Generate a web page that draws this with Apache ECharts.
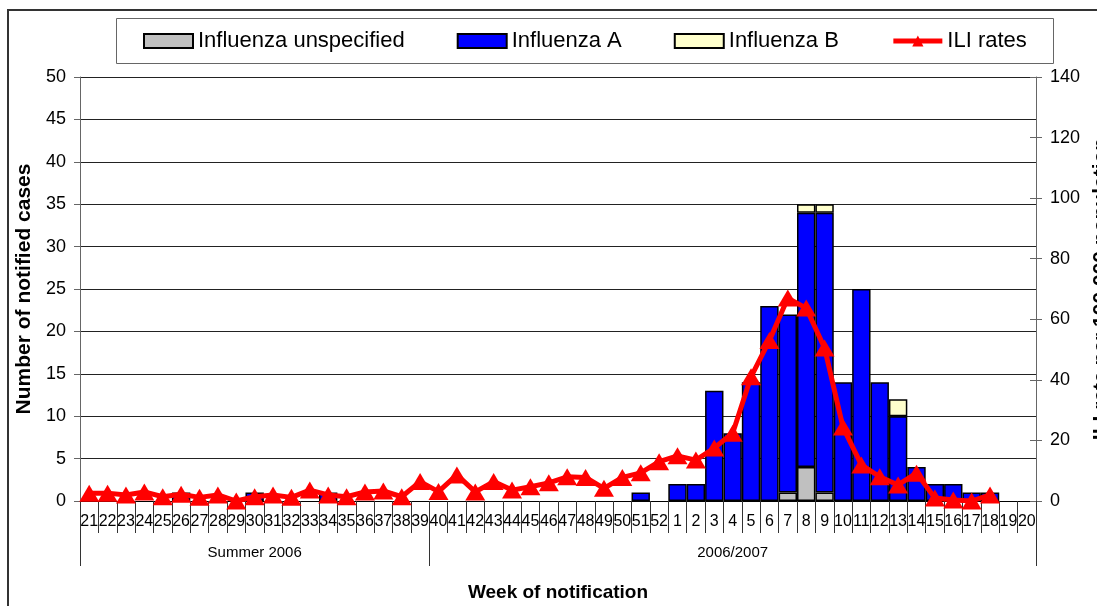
<!DOCTYPE html>
<html>
<head>
<meta charset="utf-8">
<script src="https://cdn.jsdelivr.net/npm/echarts@6/dist/echarts.min.js"></script>
<style>
  html, body { margin: 0; padding: 0; background: #fff; }
  #chart { width: 1097px; height: 606px; }
</style>
</head>
<body>
<div id="chart"></div>
<script>
  // week of notification, 2006 week 21 .. 2007 week 20
  const weeks = ['21', '22', '23', '24', '25', '26', '27', '28', '29', '30', '31', '32', '33', '34', '35', '36', '37', '38', '39',
    '40', '41', '42', '43', '44', '45', '46', '47', '48', '49', '50', '51', '52',
    '1', '2', '3', '4', '5', '6', '7', '8', '9', '10', '11', '12', '13', '14', '15', '16', '17', '18', '19', '20'];
  const groupNames = ['Summer 2006', '2006/2007'];
  const groupSizes = [19, 33];

  const fluUnspecified = [0, 0, 0, 0, 0, 0, 0, 0, 0, 0, 0, 0, 0, 0, 0, 0, 0, 0, 0,
    0, 0, 0, 0, 0, 0, 0, 0, 0, 0, 0, 0, 0,
    0, 0, 0, 0, 0, 0, 1, 4, 1, 0, 0, 0, 0, 0, 0, 0, 0, 0, 0, 0];
  const fluA = [0, 0, 0, 0, 0, 1, 0, 0, 0, 1, 0, 0, 0, 1, 0, 0, 0, 0, 0,
    0, 0, 0, 0, 0, 0, 0, 0, 0, 0, 0, 1, 0,
    2, 2, 13, 8, 14, 23, 21, 30, 33, 14, 25, 14, 10, 4, 2, 2, 1, 1, 0, 0];
  const fluB = [0, 0, 0, 0, 0, 0, 0, 0, 0, 0, 0, 0, 0, 0, 0, 0, 0, 0, 0,
    0, 0, 0, 0, 0, 0, 0, 0, 0, 0, 0, 0, 0,
    0, 0, 0, 0, 0, 0, 0, 1, 1, 0, 0, 0, 2, 0, 0, 0, 0, 0, 0, 0];
  const iliRates = [2.6, 2.6, 2, 3, 1.4, 2.2, 1.2, 2, 0, 1.4, 2, 1.2, 3.6, 2, 1.4, 3, 3.3, 1.4, 6.4,
    3.1, 8.6, 3, 6.4, 3.6, 4.7, 6, 8, 7.8, 4.2, 7.8, 9.3, 13,
    14.9, 13.5, 17.5, 22.4, 41, 53, 67, 63.7, 50.5, 24.4, 11.9, 8, 5.3, 9.2, 1, 0.3, 0, 2, null, null];

  const fontFamily = '"Liberation Sans", Arial, sans-serif';

  // second level labels: group name placed on the middle category of each group
  let groupLabels = weeks.map(() => '');
  let groupStarts = [];
  let start = 0;
  groupSizes.forEach((size, i) => {
    groupStarts.push(start);
    groupLabels[start + Math.floor(size / 2)] = groupNames[i];
    start += size;
  });

  const barStyle = (color) => ({ color: color, borderColor: '#000', borderWidth: 1.5 });
  const noZero = (arr) => arr.map(v => (v ? v : null));

  const chart = echarts.init(document.getElementById('chart'), null, { renderer: 'canvas' });
  chart.setOption({
    animation: false,
    textStyle: { fontFamily: fontFamily, color: '#000' },
    graphic: [
      {
        type: 'rect', z: 0, silent: true,
        shape: { x: 8, y: 10, width: 1200, height: 700 },
        style: { fill: 'none', stroke: '#333', lineWidth: 2 }
      },
      {
        type: 'rect', z: 0, silent: true,
        shape: { x: 116.5, y: 18.5, width: 937, height: 45 },
        style: { fill: 'none', stroke: '#666', lineWidth: 1 }
      }
    ],
    legend: {
      left: 143,
      top: 30,
      padding: 0,
      itemWidth: 49,
      itemHeight: 14,
      itemGap: 52,
      textStyle: { fontSize: 22, color: '#000', fontFamily: fontFamily },
      data: [
        { name: 'Influenza unspecified', icon: 'rect', itemStyle: { borderColor: '#000', borderWidth: 2 } },
        { name: 'Influenza A', icon: 'rect', itemStyle: { borderColor: '#000', borderWidth: 2 } },
        { name: 'Influenza B', icon: 'rect', itemStyle: { borderColor: '#000', borderWidth: 2 } },
        { name: 'ILI rates', lineStyle: { width: 5, color: '#ff0000' } }
      ]
    },
    grid: { left: 80, right: 61, top: 77, bottom: 105, outerBoundsMode: 'none', containLabel: false },
    xAxis: [
      {
        type: 'category',
        data: weeks,
        position: 'bottom',
        axisLine: { lineStyle: { color: '#000', width: 1 } },
        axisTick: { show: true, interval: 0, length: 32, lineStyle: { color: '#333' } },
        axisLabel: { interval: 0, fontSize: 16, color: '#000', margin: 13, hideOverlap: false }
      },
      {
        type: 'category',
        data: groupLabels,
        position: 'bottom',
        axisLine: { show: false },
        axisTick: {
          show: true,
          length: 65,
          interval: (index) => groupStarts.indexOf(index) >= 0,
          lineStyle: { color: '#333' }
        },
        axisLabel: {
          interval: (index, value) => value !== '',
          fontSize: 15,
          color: '#000',
          margin: 44
        },
        name: 'Week of notification',
        nameLocation: 'middle',
        nameGap: 82,
        nameTextStyle: { fontSize: 19, fontWeight: 'bold', color: '#000' }
      }
    ],
    yAxis: [
      {
        type: 'value',
        min: 0, max: 50, interval: 5,
        position: 'left',
        name: 'Number of notified cases',
        nameLocation: 'middle',
        nameRotate: 90,
        nameGap: 44,
        nameTextStyle: { fontSize: 21, fontWeight: 'bold', color: '#000' },
        axisLine: { show: true, lineStyle: { color: '#666' } },
        axisTick: { show: true, length: 6, lineStyle: { color: '#666' } },
        axisLabel: { fontSize: 18, color: '#000', margin: 14 },
        splitLine: { show: true, lineStyle: { color: '#222', width: 1 } }
      },
      {
        type: 'value',
        min: 0, max: 140, interval: 20,
        position: 'right',
        name: 'ILI rate per 100 000 population',
        nameLocation: 'middle',
        nameRotate: 90,
        nameGap: 44,
        nameTextStyle: { fontSize: 21, fontWeight: 'bold', color: '#000' },
        axisLine: { show: true, lineStyle: { color: '#666' } },
        axisTick: { show: true, length: 6, lineStyle: { color: '#666' } },
        axisLabel: { fontSize: 18, color: '#000', margin: 14 },
        splitLine: { show: false }
      },
      {
        // inner half of the crossing ticks on the right axis
        type: 'value',
        min: 0, max: 140, interval: 20,
        position: 'right',
        axisLine: { show: false },
        axisTick: { show: true, inside: true, length: 6, lineStyle: { color: '#666' } },
        axisLabel: { show: false },
        splitLine: { show: false }
      }
    ],
    series: [
      {
        name: 'Influenza unspecified',
        type: 'bar',
        stack: 'cases',
        barCategoryGap: '0%',
        itemStyle: barStyle('#c0c0c0'),
        data: noZero(fluUnspecified)
      },
      {
        name: 'Influenza A',
        type: 'bar',
        stack: 'cases',
        barCategoryGap: '0%',
        itemStyle: barStyle('#0000ff'),
        data: noZero(fluA)
      },
      {
        name: 'Influenza B',
        type: 'bar',
        stack: 'cases',
        barCategoryGap: '0%',
        itemStyle: barStyle('#ffffcc'),
        data: noZero(fluB)
      },
      {
        name: 'ILI rates',
        type: 'line',
        yAxisIndex: 1,
        z: 5,
        symbol: 'triangle',
        symbolSize: [20, 17],
        lineStyle: { color: '#ff0000', width: 5 },
        itemStyle: { color: '#ff0000' },
        data: iliRates
      }
    ]
  });
</script>
</body>
</html>
